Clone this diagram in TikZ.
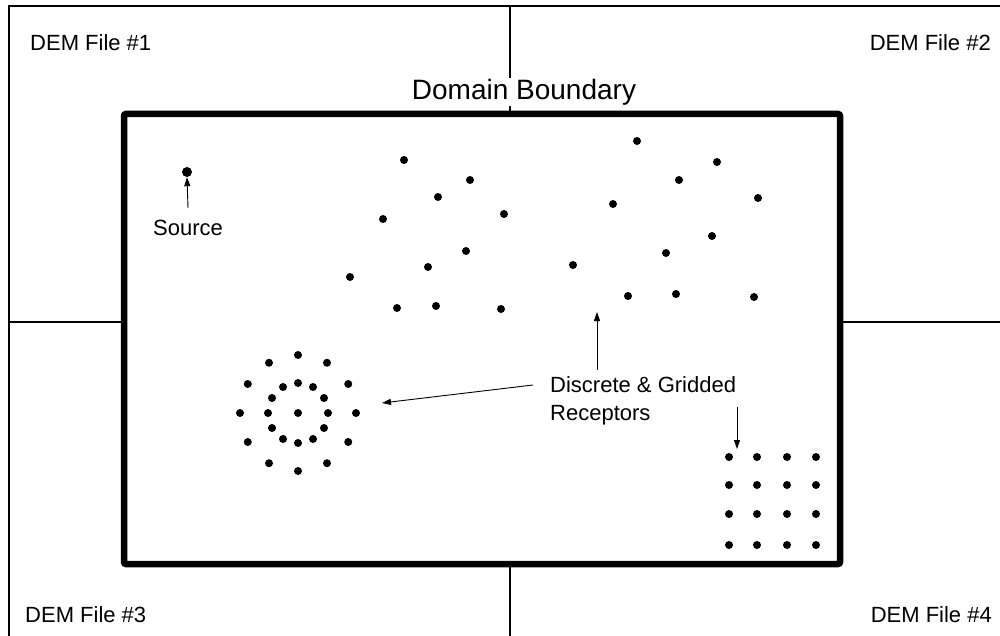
\documentclass[tikz,border=0pt]{standalone}
\usepackage{fontspec}
\setmainfont{Liberation Sans}
\usetikzlibrary{arrows.meta}

\begin{document}
\begin{tikzpicture}[x=1pt,y=-1pt,
  every node/.style={font=\fontsize{22}{28}\selectfont,inner sep=0pt},
  rec/.style={circle,fill,minimum size=8pt},
  ptr/.style={-{Triangle[length=9pt,width=6pt]},line width=0.9pt},
  tile line/.style={line width=1.2pt},
]
\useasboundingbox (0,0) rectangle (1000,636);
% DEM tiles
\draw[tile line] (9,636) -- (9,6) -- (1000,6);
\draw[tile line] (510,6) -- (510,636);
\draw[tile line] (9,322) -- (1000,322);
\node[anchor=west] (dem1) at (30,43) {DEM File \#1};
\node[anchor=east] (dem2) at (991,43) {DEM File \#2};
\node[anchor=west] (dem3) at (25,615) {DEM File \#3};
\node[anchor=east] (dem4) at (992,615) {DEM File \#4};
% domain
\draw[line width=6.5pt,rounded corners=2pt,fill=white] (124,114) rectangle (840,564);
\node[fill=white,font=\fontsize{28}{34}\selectfont,inner sep=1pt] (dom) at (524,92) {Domain Boundary};
% source
\node[rec,minimum size=10pt] (src) at (187,172) {};
\node (srclbl) at (188,228) {Source};
\draw[ptr] ([yshift=12pt]srclbl.north) -- (src.south);
% discrete receptors
\foreach \p [count=\i] in {(404,160),(470,180),(438,197),(383,219),(504,214),(466,251),
    (428,267),(350,277),(397,308),(436,306),(501,309),(637,141),(717,162),(679,180),
    (758,198),(613,204),(712,236),(666,253),(573,265),(628,296),(676,294),(754,297)}
  \node[rec] (d\i) at \p {};
% polar receptors
\node[rec] (ring) at (298,413) {};
\foreach \a in {0,30,...,330} {
  \node[rec] (in\a) at ([shift={(\a:30)}]ring) {};
  \node[rec] (out\a) at ([shift={(\a:58)}]ring) {};
}
% gridded receptors
\foreach \c [count=\i] in {729,757,787,816}
  \foreach \r [count=\j] in {457,485,514,545}
    \node[rec] (g\i\j) at (\c,\r) {};
% labels
\node[anchor=west,align=left] (lbl) at (550,401) {Discrete \& Gridded\\Receptors};
\coordinate (t1) at (533,385);
\coordinate (h1) at (382,403);
\coordinate (t2) at (597,370);
\coordinate (h2) at (597,312);
\coordinate (t3) at (737,407);
\coordinate (h3) at (737,449);
\draw[ptr] (t1) -- (h1);
\draw[ptr] (t2) -- (h2);
\draw[ptr] (t3) -- (h3);
\end{tikzpicture}
\end{document}
